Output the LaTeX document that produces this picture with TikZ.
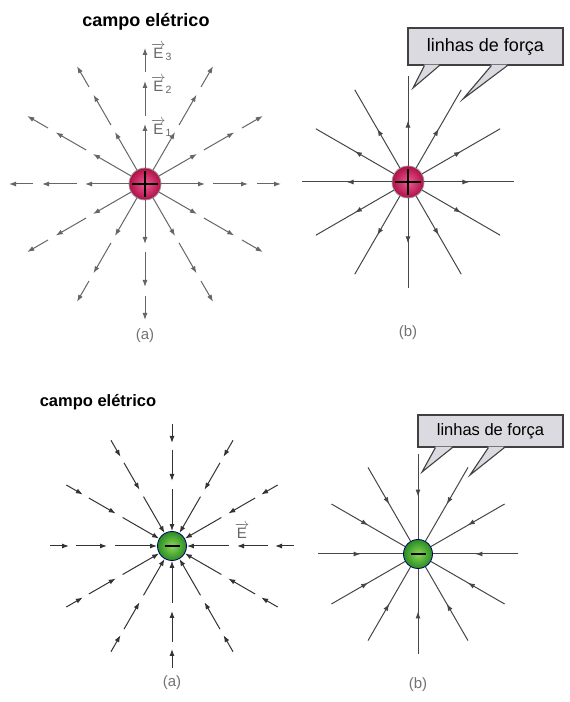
\documentclass[tikz,border=0pt]{standalone}
\usepackage{fontspec}
\setmainfont{Liberation Sans}
\usepackage{amsmath}
\usepackage{tikz}
\usetikzlibrary{positioning}
\usetikzlibrary{arrows.meta}
\usetikzlibrary{decorations.markings}

\definecolor{posin}{RGB}{238,90,150}
\definecolor{posout}{RGB}{175,15,70}
\definecolor{negin}{RGB}{140,215,85}
\definecolor{negout}{RGB}{40,140,35}
\definecolor{boxfill}{RGB}{218,218,224}

\tikzset{
  pcharge/.style={circle, minimum size=32pt, inner sep=0pt, draw=black!40, line width=0.8pt,
    inner color=posin, outer color=posout,
    path picture={\draw[black, line width=1.1pt] ([xshift=3pt]path picture bounding box.west) -- ([xshift=-3pt]path picture bounding box.east)
      ([yshift=-3pt]path picture bounding box.north) -- ([yshift=3pt]path picture bounding box.south);}},
  ncharge/.style={circle, minimum size=29pt, inner sep=0pt, draw=black!60!blue, line width=0.8pt,
    inner color=negin, outer color=negout,
    path picture={\draw[black, line width=1.1pt] ([xshift=7pt]path picture bounding box.west) -- ([xshift=-7pt]path picture bounding box.east);}},
  eline/.style={line width=1pt, draw=black!60},
  fline/.style={line width=1pt, draw=black!72, postaction={decorate},
    decoration={markings, mark=at position 0.5 with {\arrow{Latex[length=7pt,width=5pt]}}}},
  title/.style={font=\fontsize{18}{20}\selectfont\bfseries},
  callout/.style={draw=black!75, line width=1.1pt, fill=boxfill, inner sep=0pt, font=\fontsize{18}{20}\selectfont},
  sublabel/.style={text=black!55, font=\fontsize{15}{16}\selectfont},
  evec/.style={text=black!60, font=\fontsize{15}{16}\selectfont, inner sep=1pt}
}

\begin{document}
\begin{tikzpicture}[x=1pt, y=1pt, >={Latex[length=7pt,width=5pt]}]
\useasboundingbox[fill=white] (0,0) rectangle (570,702);

% top left: field of a positive charge
\node[title] (ta) at (146,680) {campo elétrico};
\node[pcharge] (qa) at (145,518) {};
\begin{scope}[shift={(qa)}]
\foreach \a in {0,30,...,330} {
  \draw[eline,->] (qa.\a) -- (\a:60);
  \draw[eline,->] (\a:68) -- (\a:103);
  \draw[eline,->] (\a:112) -- (\a:136);
}
\node[evec, anchor=west] (e1) at ([xshift=5pt,yshift=-4pt]90:60) {$\overrightarrow{\mathrm{E}}_{\mathrm{1}}$};
\node[evec, anchor=west] (e2) at ([xshift=5pt,yshift=-4pt]90:103) {$\overrightarrow{\mathrm{E}}_{\mathrm{2}}$};
\node[evec, anchor=west] (e3) at ([xshift=5pt,yshift=-4pt]90:136) {$\overrightarrow{\mathrm{E}}_{\mathrm{3}}$};
\end{scope}
\node[sublabel] (la) at (145,366) {(a)};

% top right: lines of force, positive charge
\node[pcharge] (qb) at (408,520) {};
\foreach \a in {0,30,...,330}
  \draw[fline] (qb.\a) -- ++(\a:90);
\node[callout, minimum width=155pt, minimum height=37pt] (lfb) at (485.5,655.5) {linhas de força};
\coordinate (tb1) at (413,614);
\coordinate (tb2) at (463,603);
\fill[boxfill] ([xshift=17pt,yshift=1pt]lfb.south west) -- (tb1) -- ([xshift=32pt,yshift=1pt]lfb.south west) -- cycle;
\draw[black!75, line width=1.1pt] ([xshift=17pt]lfb.south west) -- (tb1) -- ([xshift=32pt]lfb.south west);
\fill[boxfill] ([xshift=84pt,yshift=1pt]lfb.south west) -- (tb2) -- ([xshift=100pt,yshift=1pt]lfb.south west) -- cycle;
\draw[black!75, line width=1.1pt] ([xshift=84pt]lfb.south west) -- (tb2) -- ([xshift=100pt]lfb.south west);
\node[sublabel] (lb) at (408,369) {(b)};

% bottom left: field of a negative charge
\node[title, font=\fontsize{16.5}{18}\selectfont\bfseries] (tc) at (98,300) {campo elétrico};
\node[ncharge] (qc) at (172,156) {};
\begin{scope}[shift={(qc)}]
\foreach \a in {0,30,...,330} {
  \draw[eline,draw=black!80,->] (\a:122) -- (\a:103);
  \draw[eline,draw=black!80,->] (\a:96) -- (\a:65);
  \draw[eline,draw=black!80,->] (\a:57) -- (qc.\a);
}
\end{scope}
\node[evec] (ec) at (242,171) {$\overrightarrow{\mathrm{E}}$};
\node[sublabel] (lc) at (172,19) {(a)};

% bottom right: lines of force, negative charge
\node[ncharge] (qd) at (418,148) {};
\begin{scope}[shift={(qd)}]
\foreach \a in {0,30,...,330}
  \draw[fline] (\a:100) -- (qd.\a);
\end{scope}
\node[callout, minimum width=145pt, minimum height=32pt, font=\fontsize{16.5}{18}\selectfont] (lfd) at (490.5,271) {linhas de força};
\coordinate (td1) at (422,230);
\coordinate (td2) at (470,227);
\fill[boxfill] ([xshift=18pt,yshift=1pt]lfd.south west) -- (td1) -- ([xshift=35pt,yshift=1pt]lfd.south west) -- cycle;
\draw[black!75, line width=1.1pt] ([xshift=18pt]lfd.south west) -- (td1) -- ([xshift=35pt]lfd.south west);
\fill[boxfill] ([xshift=71pt,yshift=1pt]lfd.south west) -- (td2) -- ([xshift=87pt,yshift=1pt]lfd.south west) -- cycle;
\draw[black!75, line width=1.1pt] ([xshift=71pt]lfd.south west) -- (td2) -- ([xshift=87pt]lfd.south west);
\node[sublabel] (ld) at (418,17) {(b)};
\end{tikzpicture}
\end{document}
